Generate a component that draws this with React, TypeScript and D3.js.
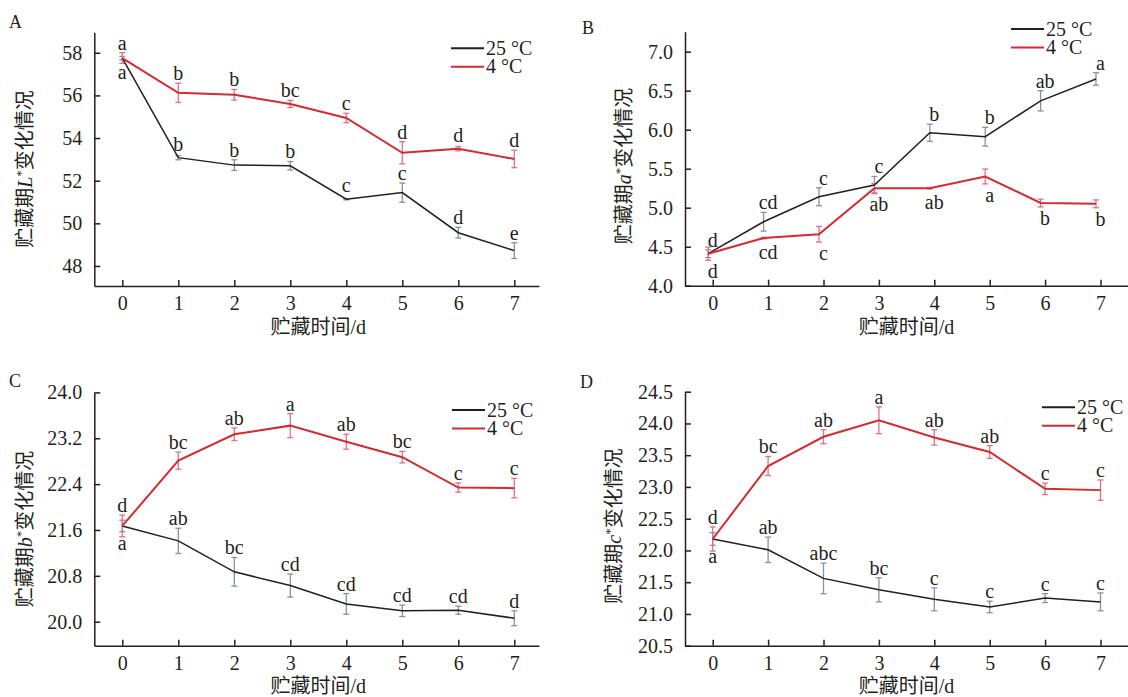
import { useEffect, useRef } from 'react';
import * as d3 from 'd3';

const days = [0, 1, 2, 3, 4, 5, 6, 7];
const seriesNames = ['25 °C', '4 °C'];

// A — L*
const lWarm = [57.75, 53.08, 52.73, 52.7, 51.13, 51.44, 49.56, 48.72];
const lWarmErr = [0.08, 0.1, 0.25, 0.2, 0.03, 0.45, 0.25, 0.37];
const lCold = [57.75, 56.12, 56.03, 55.6, 54.94, 53.31, 53.5, 53.02];
const lColdErr = [0.25, 0.45, 0.25, 0.17, 0.22, 0.52, 0.1, 0.41];
const lWarmSig = ['a', 'b', 'b', 'b', 'c', 'c', 'd', 'e'];
const lColdSig = ['a', 'b', 'b', 'bc', 'c', 'd', 'd', 'd'];
const lTicks = [48, 50, 52, 54, 56, 58];

// B — a*
const aWarm = [4.41, 4.82, 5.14, 5.29, 5.96, 5.91, 6.37, 6.65];
const aWarmErr = [0.05, 0.12, 0.115, 0.11, 0.11, 0.12, 0.13, 0.08];
const aCold = [4.41, 4.61, 4.66, 5.25, 5.25, 5.4, 5.06, 5.05];
const aColdErr = [0.085, 0.01, 0.1, 0.06, 0.01, 0.095, 0.05, 0.05];
const aWarmSig = ['d', 'cd', 'c', 'c', 'b', 'b', 'ab', 'a'];
const aColdSig = ['d', 'cd', 'c', 'ab', 'ab', 'a', 'b', 'b'];
const aTicks = [4.0, 4.5, 5.0, 5.5, 6.0, 6.5, 7.0];

// C — b*
const bWarm = [21.67, 21.41, 20.87, 20.63, 20.31, 20.19, 20.2, 20.06];
const bWarmErr = [0.1, 0.22, 0.25, 0.2, 0.18, 0.1, 0.07, 0.13];
const bCold = [21.67, 22.81, 23.27, 23.42, 23.14, 22.87, 22.34, 22.33];
const bColdErr = [0.19, 0.15, 0.11, 0.21, 0.13, 0.1, 0.08, 0.17];
const bWarmSig = ['a', 'ab', 'bc', 'cd', 'cd', 'cd', 'cd', 'd'];
const bColdSig = ['d', 'bc', 'ab', 'a', 'ab', 'bc', 'c', 'c'];
const bTicks = [20.0, 20.8, 21.6, 22.4, 23.2, 24.0];

// D — c*
const cWarm = [22.18, 22.01, 21.56, 21.38, 21.23, 21.11, 21.25, 21.19];
const cWarmErr = [0.1, 0.2, 0.24, 0.19, 0.18, 0.09, 0.07, 0.14];
const cCold = [22.18, 23.33, 23.79, 24.05, 23.78, 23.55, 22.97, 22.95];
const cColdErr = [0.19, 0.15, 0.11, 0.21, 0.12, 0.1, 0.09, 0.16];
const cWarmSig = ['a', 'ab', 'abc', 'bc', 'c', 'c', 'c', 'c'];
const cColdSig = ['d', 'bc', 'ab', 'a', 'ab', 'ab', 'c', 'c'];
const cTicks = [20.5, 21.0, 21.5, 22.0, 22.5, 23.0, 23.5, 24.0, 24.5];

const UP = 'up';
const DOWN = 'down';

const SERIF = "'Liberation Serif', 'Times New Roman', 'Noto Sans CJK SC', serif";
const INK = '#231f20';
const RED = '#d42a30';
const RED_BAR = '#e07088';
const GRAY_BAR = '#8593a0';

const panels = [
  {
    id: 'A', letter: 'L',
    warm: lWarm, warmErr: lWarmErr, cold: lCold, coldErr: lColdErr,
    warmSig: lWarmSig, coldSig: lColdSig,
    warmPos: [DOWN, UP, UP, UP, UP, UP, UP, UP], coldPos: Array(8).fill(UP),
    ticks: lTicks, fmt: d3.format('d'), yDomain: [47.06, 58.96],
    left: 94.3, top: 32.3, bottom: 286, step: 56, xEnd: 7.44, dx: 0,
    title: [9, 28], yTitle: [25, 169], xTitleY: 334, legend: [451, 48.3],
  },
  {
    id: 'B', letter: 'a',
    warm: aWarm, warmErr: aWarmErr, cold: aCold, coldErr: aColdErr,
    warmSig: aWarmSig, coldSig: aColdSig,
    warmPos: Array(8).fill(UP), coldPos: Array(8).fill(DOWN),
    ticks: aTicks, fmt: d3.format('.1f'), yDomain: [4.0, 7.256],
    left: 685, top: 31.7, bottom: 285.7, step: 55.4, xEnd: 8.6, dx: -4.5,
    title: [582, 34], yTitle: [624, 166], xTitleY: 334, legend: [1011, 29],
  },
  {
    id: 'C', letter: 'b',
    warm: bWarm, warmErr: bWarmErr, cold: bCold, coldErr: bColdErr,
    warmSig: bWarmSig, coldSig: bColdSig,
    warmPos: [DOWN, UP, UP, UP, UP, UP, UP, UP], coldPos: Array(8).fill(UP),
    ticks: bTicks, fmt: d3.format('.1f'), yDomain: [19.581, 24.0],
    left: 94.3, top: 392.4, bottom: 645.7, step: 56, xEnd: 7.44, dx: 0,
    title: [9, 387], yTitle: [25, 529], xTitleY: 693, legend: [452, 410],
  },
  {
    id: 'D', letter: 'c',
    warm: cWarm, warmErr: cWarmErr, cold: cCold, coldErr: cColdErr,
    warmSig: cWarmSig, coldSig: cColdSig,
    warmPos: [DOWN, UP, UP, UP, UP, UP, UP, UP], coldPos: Array(8).fill(UP),
    ticks: cTicks, fmt: d3.format('.1f'), yDomain: [20.5, 24.5],
    left: 685, top: 391.7, bottom: 645.7, step: 55.4, xEnd: 8.6, dx: 0,
    title: [580, 388], yTitle: [614, 526], xTitleY: 693, legend: [1042, 407.3],
  },
];

function drawPanel(svg, p) {
  const x = d3.scaleLinear()
    .domain([-0.5, p.xEnd])
    .range([p.left, p.left + (p.xEnd + 0.5) * p.step]);
  const y = d3.scaleLinear().domain(p.yDomain).range([p.bottom, p.top]);
  const g = svg.append('g');

  // axes (ticks point inward)
  const yAxis = g.append('g')
    .attr('transform', `translate(${p.left},0)`)
    .call(d3.axisLeft(y).tickValues(p.ticks).tickFormat(p.fmt)
      .tickSizeInner(-6).tickSizeOuter(0).tickPadding(12));
  const xAxis = g.append('g')
    .attr('transform', `translate(0,${p.bottom})`)
    .call(d3.axisBottom(x).tickValues(days).tickFormat(d3.format('d'))
      .tickSizeInner(-6).tickSizeOuter(0).tickPadding(10));
  [yAxis, xAxis].forEach(a => {
    a.attr('font-family', SERIF).attr('font-size', 20);
    a.selectAll('path, line').attr('stroke', INK).attr('stroke-width', 1.5);
    a.selectAll('text').attr('fill', INK);
  });

  const px = i => x(days[i]) + p.dx;

  const series = [
    { vals: p.warm, err: p.warmErr, sig: p.warmSig, pos: p.warmPos, color: INK, bar: GRAY_BAR, width: 1.5 },
    { vals: p.cold, err: p.coldErr, sig: p.coldSig, pos: p.coldPos, color: RED, bar: RED_BAR, width: 2 },
  ];

  series.forEach(s => {
    // error bars
    const eb = g.append('g').attr('stroke', s.bar).attr('stroke-width', 1.3);
    s.vals.forEach((v, i) => {
      const x0 = px(i);
      const y1 = y(v + s.err[i]);
      const y2 = y(v - s.err[i]);
      eb.append('line').attr('x1', x0).attr('x2', x0).attr('y1', y1).attr('y2', y2);
      eb.append('line').attr('x1', x0 - 3).attr('x2', x0 + 3).attr('y1', y1).attr('y2', y1);
      eb.append('line').attr('x1', x0 - 3).attr('x2', x0 + 3).attr('y1', y2).attr('y2', y2);
    });
  });

  series.forEach(s => {
    const line = d3.line<number>().x((_, i) => px(i)).y(d => y(d));
    g.append('path')
      .attr('d', line(s.vals))
      .attr('fill', 'none')
      .attr('stroke', s.color)
      .attr('stroke-width', s.width);
  });

  // significance letters
  series.forEach(s => {
    s.vals.forEach((v, i) => {
      const lx = x(days[i]);
      let ly;
      if (s.pos[i] === UP) {
        ly = Math.min(y(v + s.err[i]) - 3, y(v) - 7);
      } else {
        ly = Math.max(y(v - s.err[i]), y(v) + 3) + 18;
      }
      g.append('text')
        .attr('x', lx)
        .attr('y', ly)
        .attr('text-anchor', 'middle')
        .attr('font-family', SERIF)
        .attr('font-size', 20)
        .attr('fill', INK)
        .text(s.sig[i]);
    });
  });

  // legend
  const [lx, ly] = p.legend;
  [INK, RED].forEach((c, k) => {
    const yy = ly + k * 18.4;
    g.append('line')
      .attr('x1', lx).attr('x2', lx + 33).attr('y1', yy).attr('y2', yy)
      .attr('stroke', c).attr('stroke-width', 2);
    g.append('text')
      .attr('x', lx + 35).attr('y', yy + 6.5)
      .attr('font-family', SERIF).attr('font-size', 20).attr('fill', INK)
      .text(seriesNames[k]);
  });

  // panel letter
  g.append('text')
    .attr('x', p.title[0]).attr('y', p.title[1])
    .attr('font-family', SERIF).attr('font-size', 18).attr('fill', INK)
    .text(p.id);

  // x title
  g.append('text')
    .attr('x', (x(0) + x(7)) / 2).attr('y', p.xTitleY)
    .attr('text-anchor', 'middle')
    .attr('font-family', SERIF).attr('font-size', 20).attr('fill', INK)
    .text('贮藏时间/d');

  // y title
  const yt = g.append('text')
    .attr('transform', `translate(${p.yTitle[0]},${p.yTitle[1]}) rotate(-90)`)
    .attr('text-anchor', 'middle')
    .attr('dy', '0.35em')
    .attr('font-family', SERIF).attr('font-size', 20).attr('fill', INK);
  yt.append('tspan').text('贮藏期');
  yt.append('tspan').attr('font-style', 'italic').text(p.letter);
  yt.append('tspan').attr('font-size', 13).attr('dy', -7).text('*');
  yt.append('tspan').attr('dy', 7).text('变化情况');
}

export default function App() {
  const svgRef = useRef(null);

  useEffect(() => {
    if (!svgRef.current) return;
    const svg = d3.select(svgRef.current);
    svg.selectAll('*').remove();
    panels.forEach(p => drawPanel(svg, p));
  }, []);

  return (
    <svg
      ref={svgRef}
      width={1128}
      height={697}
      style={{ position: 'absolute', left: 0, top: 0, background: '#fff' }}
    />
  );
}
